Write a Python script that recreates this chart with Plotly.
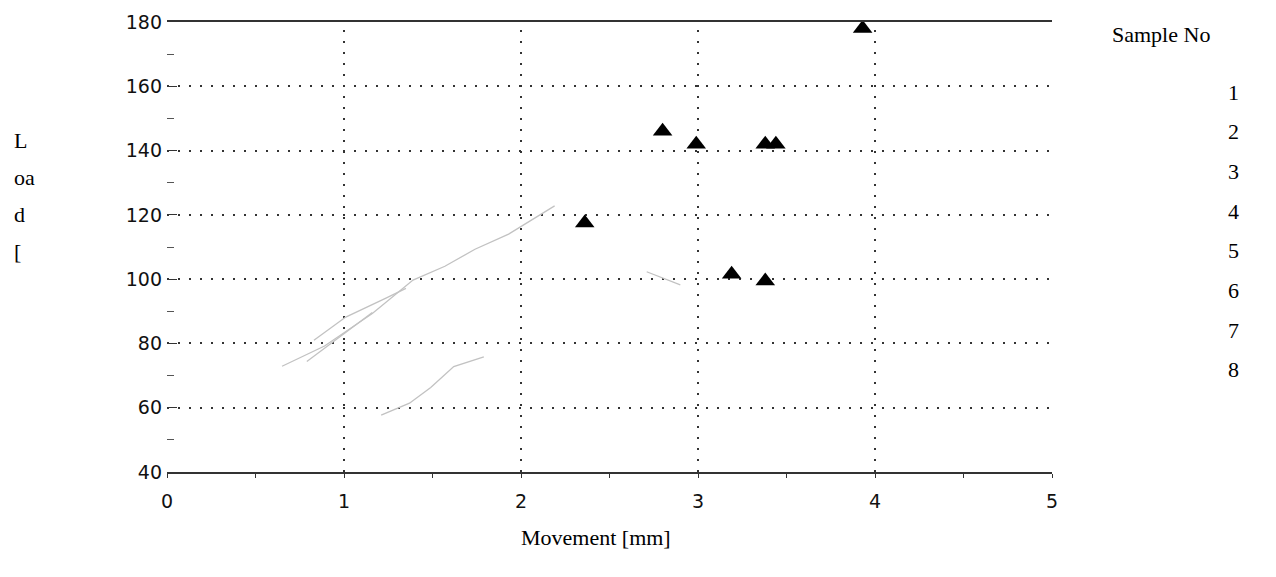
import plotly.graph_objects as go

# Failure points (Movement [mm], Load [N]) for samples 1..8
sample_x = [3.93, 2.80, 2.99, 3.38, 3.44, 2.36, 3.19, 3.38]
sample_y = [178.0, 146.0, 142.0, 142.0, 142.0, 117.5, 101.5, 99.4]

# Faint load-displacement traces visible in the scan
curve_a_x = [0.65, 0.89, 1.16, 1.39, 1.57, 1.74, 1.93, 2.19]
curve_a_y = [72.9, 79.2, 89.3, 99.7, 104.0, 109.3, 114.0, 122.8]
curve_b_x = [0.79, 1.05, 1.16]
curve_b_y = [74.4, 85.1, 89.6]
curve_c_x = [0.83, 1.01, 1.24, 1.35]
curve_c_y = [81.0, 88.2, 94.2, 97.1]
curve_d_x = [1.21, 1.37, 1.49, 1.62, 1.79]
curve_d_y = [57.7, 61.4, 66.3, 72.8, 75.8]
curve_e_x = [2.71, 2.90]
curve_e_y = [102.3, 98.2]

x_ticks = [0, 1, 2, 3, 4, 5]
y_ticks = [40, 60, 80, 100, 120, 140, 160, 180]
x_grid = [1, 2, 3, 4]
legend_labels = ["1", "2", "3", "4", "5", "6", "7", "8"]
y_title_lines = ["L", "oa", "d", "["]

# page pixel geometry (body margin of 8px is accounted for)
OFF = 8
PL, PR, PT, PB = 167, 1052, 22, 472


def px(xpix):
    return (xpix - PL) / (PR - PL)


def py(ypix):
    return (PB - ypix) / (PB - PT)


fig = go.Figure()
faint = dict(color="#c2c2c2", width=1.3)
for cx, cy in [(curve_a_x, curve_a_y), (curve_b_x, curve_b_y), (curve_c_x, curve_c_y),
               (curve_d_x, curve_d_y), (curve_e_x, curve_e_y)]:
    fig.add_trace(go.Scatter(x=cx, y=cy, mode="lines", line=faint,
                             hoverinfo="skip", showlegend=False))

fig.add_trace(go.Scatter(x=sample_x, y=sample_y, mode="markers",
                         marker=dict(symbol="triangle-up", size=17, color="#000000"),
                         showlegend=False))

for gx in x_grid:
    fig.add_shape(type="line", xref="x", yref="paper", x0=gx, x1=gx, y0=0, y1=1,
                  line=dict(color="#333333", width=2, dash="2px,9px"), layer="below")

tick_font = dict(family="DejaVu Sans", size=19, color="#111111")
serif = dict(family="Liberation Serif", size=22, color="#000000")

fig.update_xaxes(range=[0, 5], tickvals=x_ticks, showgrid=False, zeroline=False,
                 showline=True, mirror=True, linecolor="#333333", linewidth=1.5,
                 ticks="outside", ticklen=4, tickcolor="#333333",
                 minor=dict(ticks="outside", ticklen=4, dtick=0.5, tickcolor="#333333"),
                 tickfont=tick_font, ticklabelstandoff=7, automargin=False)
fig.update_yaxes(range=[40, 180], tickvals=y_ticks, showgrid=True, gridcolor="#333333",
                 gridwidth=2, griddash="2px,9px", zeroline=False, showline=False,
                 ticks="inside", ticklen=10, tickcolor="#333333",
                 minor=dict(ticks="inside", ticklen=7, dtick=10, tickcolor="#555555"),
                 tickfont=tick_font, ticklabelstandoff=4, automargin=False)

fig.add_annotation(text="Movement [mm]", xref="paper", yref="paper",
                   x=px(596), y=py(537), showarrow=False, font=serif,
                   xanchor="center", yanchor="middle")
fig.add_annotation(text="Sample No", xref="paper", yref="paper",
                   x=px(1161), y=py(35), showarrow=False, font=serif,
                   xanchor="center", yanchor="middle")
for i, lab in enumerate(legend_labels):
    fig.add_annotation(text=lab, xref="paper", yref="paper",
                       x=px(1241), y=py(92 + i * 39.7), showarrow=False, font=serif,
                       xanchor="right", yanchor="middle")
for i, lab in enumerate(y_title_lines):
    fig.add_annotation(text=lab, xref="paper", yref="paper",
                       x=px(12), y=py(140 + i * 37), showarrow=False, font=serif,
                       xanchor="left", yanchor="middle")

W, H = 1276 - OFF, 577 - OFF
fig.update_layout(width=W, height=H,
                  margin=dict(l=PL - OFF, r=W + OFF - PR, t=PT - OFF, b=H + OFF - PB,
                              autoexpand=False),
                  plot_bgcolor="white", paper_bgcolor="white", showlegend=False)

fig.write_html("out.html")
